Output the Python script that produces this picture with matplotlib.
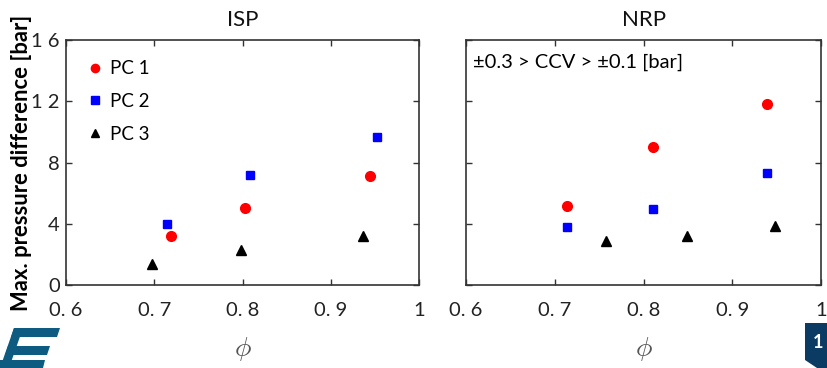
import matplotlib
matplotlib.use("Agg")
import matplotlib.pyplot as plt
from matplotlib.patches import Polygon

plt.rcParams['font.family'] = ['Lato', 'DejaVu Sans']
plt.rcParams['mathtext.fontset'] = 'cm'

# ---- data ----
isp_pc1_x = [0.719, 0.803, 0.944]
isp_pc1_y = [3.2, 5.03, 7.14]
isp_pc2_x = [0.714, 0.808, 0.952]
isp_pc2_y = [4.0, 7.18, 9.69]
isp_pc3_x = [0.697, 0.798, 0.937]
isp_pc3_y = [1.35, 2.29, 3.2]

nrp_pc1_x = [0.714, 0.811, 0.939]
nrp_pc1_y = [5.18, 9.03, 11.8]
nrp_pc2_x = [0.714, 0.811, 0.939]
nrp_pc2_y = [3.79, 4.94, 7.29]
nrp_pc3_x = [0.758, 0.849, 0.948]
nrp_pc3_y = [2.85, 3.18, 3.85]

x_ticks = [0.6, 0.7, 0.8, 0.9, 1.0]
x_tick_labels = ['0. 6', '0. 7', '0. 8', '0. 9', '1']
y_ticks = [0, 4, 8, 12, 16]
y_tick_labels = ['0', '4', '8', '1 2', '1 6']
series_labels = ['PC 1', 'PC 2', 'PC 3']

W, H = 827, 368
fig = plt.figure(figsize=(W / 100, H / 100), dpi=100)

def fx(px):
    return px / W

def fy(py):
    return 1 - py / H

ax1 = fig.add_axes([fx(66), fy(285), fx(419) - fx(66), fy(40) - fy(285)])
ax2 = fig.add_axes([fx(466), fy(285), fx(821) - fx(466), fy(40) - fy(285)])

spine_col = '#333333'
for ax, data, title in [
    (ax1, [(isp_pc1_x, isp_pc1_y), (isp_pc2_x, isp_pc2_y), (isp_pc3_x, isp_pc3_y)], 'ISP'),
    (ax2, [(nrp_pc1_x, nrp_pc1_y), (nrp_pc2_x, nrp_pc2_y), (nrp_pc3_x, nrp_pc3_y)], 'NRP'),
]:
    (x1, y1), (x2, y2), (x3, y3) = data
    ax.plot(x1, y1, 'o', color='#ff0000', ms=7, mec='#ff0000', label=series_labels[0])
    ax.plot(x2, y2, 's', color='#0000ff', ms=6.3, mec='#0000ff', label=series_labels[1])
    ax.plot(x3, y3, '^', color='black', ms=7.5, label=series_labels[2])
    ax.set_xlim(0.6, 1.0)
    ax.set_ylim(0, 16)
    ax.set_xticks(x_ticks)
    ax.set_xticklabels(x_tick_labels)
    ax.set_yticks(y_ticks)
    ax.tick_params(direction='in', top=True, right=True, length=4, width=1,
                   color=spine_col, labelsize=14.5, labelcolor='#222222')
    ax.tick_params(axis='x', pad=12)
    ax.tick_params(axis='y', pad=4.5)
    for s in ax.spines.values():
        s.set_color(spine_col)
        s.set_linewidth(1.2)
    ax.set_title(title, fontsize=16, color='#111111', pad=10)
    ax.set_xlabel(r'$\phi$', fontsize=20, color='#555555', labelpad=12)

ax1.set_yticklabels(y_tick_labels)
ax2.set_yticklabels([])
ax1.set_ylabel('Max. pressure difference [bar]', fontsize=15.8, color='black',
               fontweight='bold')
ax1.yaxis.set_label_coords(-0.096, 0.5)

ax1.legend(loc='upper left', frameon=False, fontsize=13.5, handletextpad=0.25,
           labelspacing=0.85, borderaxespad=0, borderpad=0,
           bbox_to_anchor=(0.057, 0.918), handlelength=1.0, markerscale=0.85)

ax2.text(0.02, 0.91, '±0.3 > CCV > ±0.1 [bar]', transform=ax2.transAxes,
         fontsize=14.5, color='black', va='center', ha='left')

# logo at bottom-left
logo_col = '#0d5b80'
fig.patches.append(Polygon([(fx(14), fy(328)), (fx(60), fy(328)), (fx(57), fy(337)),
                            (fx(11), fy(337))], closed=True, transform=fig.transFigure,
                           facecolor=logo_col, edgecolor='none'))
fig.patches.append(Polygon([(fx(8), fy(346)), (fx(50), fy(346)), (fx(47), fy(355)),
                            (fx(5), fy(355))], closed=True, transform=fig.transFigure,
                           facecolor=logo_col, edgecolor='none'))
fig.patches.append(Polygon([(fx(14), fy(328)), (fx(23), fy(328)), (fx(9), fy(368)),
                            (fx(0), fy(368))], closed=True, transform=fig.transFigure,
                           facecolor=logo_col, edgecolor='none'))
fig.patches.append(Polygon([(fx(0), fy(360)), (fx(45), fy(360)), (fx(43), fy(368)),
                            (fx(0), fy(368))], closed=True, transform=fig.transFigure,
                           facecolor=logo_col, edgecolor='none'))

# page number box bottom-right
box_col = '#0b3a63'
fig.patches.append(Polygon([(fx(805), fy(323)), (fx(827), fy(323)), (fx(827), fy(368)),
                            (fx(817), fy(368)), (fx(805), fy(360))], closed=True,
                           transform=fig.transFigure, facecolor=box_col, edgecolor='none'))
fig.text(fx(818), fy(343), '1', color='white', fontsize=13, fontweight='bold',
         ha='center', va='center')

fig.savefig('out.png', dpi=100)
